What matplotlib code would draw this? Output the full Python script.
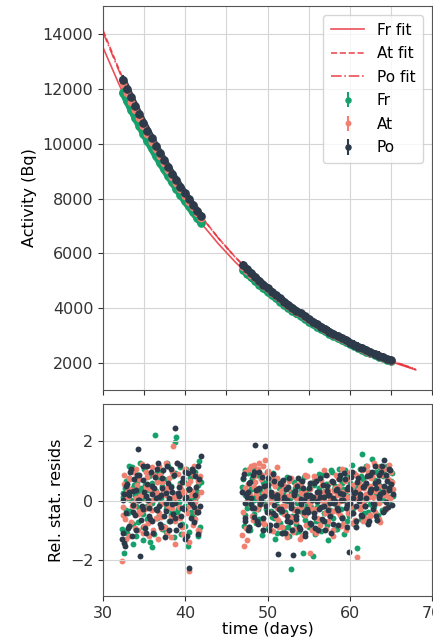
import matplotlib
matplotlib.use("Agg")
import matplotlib.pyplot as plt

# fitted decay curves (sampled every 2 days)
fit_time = [30, 32, 34, 36, 38, 40, 42, 44, 46, 48, 50, 52, 54, 56, 58, 60, 62, 64, 66, 68]
fr_fit = [13520, 12137, 10896, 9781, 8781, 7883, 7077, 6353, 5703, 5120,
          4596, 4126, 3704, 3325, 2985, 2680, 2406, 2160, 1939, 1741]
at_fit = [14150, 12680, 11363, 10182, 9124, 8176, 7327, 6566, 5884, 5273,
          4725, 4234, 3794, 3400, 3047, 2730, 2446, 2192, 1964, 1760]
po_fit = [14080, 12624, 11319, 10149, 9100, 8159, 7315, 6559, 5881, 5273,
          4728, 4239, 3801, 3408, 3056, 2740, 2457, 2203, 1975, 1771]

# measured activity (Bq); first 20 samples = first run, rest = second run
act_time = [32.4, 32.9, 33.4, 33.9, 34.4, 34.9, 35.4, 35.9, 36.4, 36.9,
            37.4, 37.9, 38.4, 38.9, 39.4, 39.9, 40.4, 40.9, 41.4, 41.9,
            47.0, 47.5, 48.0, 48.5, 49.0, 49.5, 50.0, 50.5, 51.0, 51.5,
            52.0, 52.5, 53.0, 53.5, 54.0, 54.5, 55.0, 55.5, 56.0, 56.5,
            57.0, 57.5, 58.0, 58.5, 59.0, 59.5, 60.0, 60.5, 61.0, 61.5,
            62.0, 62.5, 63.0, 63.5, 64.0, 64.5, 65.0]
fr_act = [11878, 11562, 11254, 10955, 10663, 10379, 10103, 9834, 9572, 9317,
          9069, 8828, 8593, 8364, 8141, 7925, 7714, 7508, 7308, 7114,
          5403, 5259, 5119, 4983, 4850, 4721, 4595, 4473, 4354, 4238,
          4125, 4015, 3908, 3804, 3703, 3604, 3508, 3415, 3324, 3236,
          3150, 3066, 2984, 2905, 2828, 2753, 2680, 2609, 2540, 2472,
          2406, 2342, 2280, 2219, 2160, 2103, 2047]
at_act = [12194, 11867, 11549, 11239, 10938, 10644, 10359, 10081, 9811, 9548,
          9292, 9043, 8800, 8564, 8334, 8111, 7893, 7681, 7475, 7275,
          5513, 5365, 5221, 5081, 4945, 4812, 4683, 4558, 4435, 4317,
          4201, 4088, 3979, 3872, 3768, 3667, 3569, 3473, 3380, 3289,
          3201, 3115, 3031, 2950, 2871, 2794, 2719, 2646, 2575, 2506,
          2439, 2373, 2310, 2248, 2187, 2129, 2072]
po_act = [12352, 12020, 11696, 11381, 11075, 10777, 10487, 10205, 9930, 9663,
          9403, 9150, 8904, 8664, 8431, 8204, 7983, 7768, 7559, 7356,
          5568, 5418, 5272, 5130, 4992, 4858, 4727, 4600, 4476, 4356,
          4239, 4125, 4014, 3906, 3801, 3699, 3599, 3502, 3408, 3316,
          3227, 3140, 3055, 2973, 2893, 2815, 2739, 2665, 2593, 2523,
          2455, 2389, 2325, 2262, 2201, 2142, 2084]
act_err = 150
n_run1 = 20

# relative statistical residuals, first set of samples
res_time = [32.3, 32.5, 32.7, 32.9, 33.1, 33.3, 33.5, 33.7, 33.9, 34.1,
            34.3, 34.5, 34.7, 34.9, 35.1, 35.3, 35.5, 35.7, 35.9, 36.1,
            36.3, 36.5, 36.7, 36.9, 37.1, 37.3, 37.5, 37.7, 37.9, 38.1,
            38.3, 38.5, 38.7, 38.9, 39.1, 39.3, 39.5, 39.7, 39.9, 40.1,
            40.3, 40.5, 40.7, 40.9, 41.1, 41.3, 41.5, 41.7, 41.9,
            46.9, 47.1, 47.3, 47.5, 47.7, 47.9, 48.1, 48.3, 48.5, 48.7,
            48.9, 49.1, 49.3, 49.5, 49.7, 49.9, 50.1, 50.3, 50.5, 50.7,
            50.9, 51.1, 51.3, 51.5, 51.7, 51.9, 52.1, 52.3, 52.5, 52.7,
            52.9, 53.1, 53.3, 53.5, 53.7, 53.9, 54.1, 54.3, 54.5, 54.7,
            54.9, 55.1, 55.3, 55.5, 55.7, 55.9, 56.1, 56.3, 56.5, 56.7,
            56.9, 57.1, 57.3, 57.5, 57.7, 57.9, 58.1, 58.3, 58.5, 58.7,
            58.9, 59.1, 59.3, 59.5, 59.7, 59.9, 60.1, 60.3, 60.5, 60.7,
            60.9, 61.1, 61.3, 61.5, 61.7, 61.9, 62.1, 62.3, 62.5, 62.7,
            62.9, 63.1, 63.3, 63.5, 63.7, 63.9, 64.1, 64.3, 64.5, 64.7,
            64.9, 65.1]
fr_res = [-0.93, -1.75, 0.42, -1.07, 0.76, -0.34, 1.12, -1.45, 0.18, 0.63,
          -0.71, 1.27, 0.08, -1.32, 0.54, -0.16, 0.87, -1.38, -1.55, 0.29,
          2.21, -0.57, 0.73, -0.12, 0.96, -0.84, 0.37, -1.03, 1.18, 0.04,
          -0.48, 0.82, 1.98, 2.15, -0.27, 0.58, -1.13, 0.23, -0.86, 1.06,
          -1.52, 0.41, -0.39, 0.93, -0.66, 0.32, -1.17, 1.35, 0.62,
          0.47, -0.83, 1.02, -0.24, 0.31, -0.97, 0.78, -0.43, 0.13, 0.88,
          -0.62, 0.36, -1.16, 0.64, -0.07, 0.98, -0.92, 0.17, -0.53, 0.69,
          -1.28, 0.02, 0.49, -0.74, -1.09, 0.27, -0.36, 0.81, -0.88, 0.11,
          -2.29, -0.63, 0.44, -1.04, 0.16, -0.33, 0.68, -1.76, -0.46, 0.34,
          -0.79, 1.38, -0.21, -1.84, 0.52, -0.68, 0.07, 0.91, -1.01, 0.28,
          -0.42, 0.57, -1.31, -0.03, 1.03, -0.59, 0.38, -0.94, 0.22, 1.08,
          -0.28, 0.61, -1.12, 0.33, 0.86, -0.51, 0.14, 1.21, -0.77, 0.48,
          -1.57, 0.19, 0.83, 1.58, -0.41, 0.56, -0.72, 0.97, 0.26, 1.41,
          -0.18, 0.71, -0.64, 1.13, 0.39, -0.32, 0.89, 0.24, 1.16, -0.09,
          0.63, 0.92]
at_res = [-2.03, 0.87, -0.62, 0.28, -1.19, 0.73, -0.18, 0.97, -0.91, 0.52,
          -0.43, 0.17, 1.22, -1.08, -0.27, 0.79, -0.74, 0.41, 1.13, -0.98,
          0.06, 0.62, -1.27, 0.88, -0.53, 0.34, -0.87, 1.28, -0.23, 0.47,
          -1.21, 1.85, -1.45, 0.22, 0.91, -0.58, 0.38, -1.12, 1.04, -0.32,
          0.57, -2.35, 0.19, -0.82, 1.17, -0.37, 0.68, -1.02, 0.31,
          -1.15, -1.50, 0.43, -1.30, 1.08, 0.18, -0.52, 1.19, 0.63, -0.28,
          1.26, 0.03, 0.86, -0.72, 1.37, 0.27, 0.99, -0.41, 0.72, -1.01,
          0.48, 1.12, -0.63, 0.23, -0.88, 0.57, -0.19, -1.22, 0.38, -0.54,
          0.77, -1.03, 0.12, -0.68, 0.53, -1.28, 0.26, -0.42, 0.87, -0.81,
          -0.02, -1.75, 0.61, -0.29, 0.83, -1.07, 0.21, -0.62, 0.69, -0.17,
          1.02, -0.93, 0.37, -0.48, 0.63, -1.18, 0.32, 0.88, -0.39, 0.51,
          -0.83, 1.07, 0.04, -0.97, 0.72, -0.27, 0.46, -0.73, 0.92, 0.18,
          -1.87, 0.58, -0.22, 1.03, 0.42, -0.57, 1.18, 0.13, -0.47, 0.82,
          1.27, -0.38, 0.53, 0.87, -0.71, 1.09, 0.28, -0.23, 0.78, 1.21,
          0.08, 0.62]
po_res = [-1.28, 0.23, -1.52, 0.57, -0.83, 0.98, -1.17, 0.32, -0.47, 0.88,
          1.72, -1.85, -0.18, 0.69, -0.92, 1.17, 0.03, -0.61, 0.48, -1.09,
          0.81, -0.32, 1.26, -0.77, 0.19, 1.02, -1.23, -0.07, 0.61, -0.68,
          1.08, -0.43, 2.45, -0.97, 0.27, 1.21, -0.52, 0.77, -1.27, 0.13,
          0.92, -2.25, -0.57, 0.99, -0.22, 0.47, -1.12, 0.72, 1.50,
          0.28, 0.91, -0.58, 0.12, -0.87, 0.62, -0.23, 0.98, 1.88, -0.69,
          0.42, -0.12, 0.79, -0.98, 1.85, -0.37, 0.53, -0.82, 0.17, 0.89,
          -0.48, 0.08, -1.80, 0.58, -0.33, 0.71, -1.08, 0.02, 0.47, -0.72,
          -0.17, -1.83, 0.32, -0.62, 0.78, -0.93, -0.03, 0.43, -1.18, 0.21,
          -0.38, 0.59, -0.77, 0.12, -0.53, 0.68, -0.98, 0.28, -0.21, 0.52,
          -0.67, 0.87, -0.32, 0.18, -1.07, 0.63, -0.08, 0.37, -0.82, 0.73,
          0.01, -0.58, 0.92, -0.23, 0.41, -1.73, 0.79, -0.42, 0.27, -0.88,
          0.62, -0.02, 1.08, -0.52, 0.48, -0.17, 0.82, -0.68, 0.33, 0.97,
          -0.12, 0.58, -0.63, 0.88, 0.23, 1.17, 1.38, -0.28, 0.68, 0.42,
          1.02, -0.13]

# second set of samples (interleaved times)
res_time2 = [32.4, 32.6, 32.8, 33.0, 33.2, 33.4, 33.6, 33.8, 34.0, 34.2,
             34.4, 34.6, 34.8, 35.0, 35.2, 35.4, 35.6, 35.8, 36.0, 36.2,
             36.4, 36.6, 36.8, 37.0, 37.2, 37.4, 37.6, 37.8, 38.0, 38.2,
             38.4, 38.6, 38.8, 39.0, 39.2, 39.4, 39.6, 39.8, 40.0, 40.2,
             40.4, 40.6, 40.8, 41.0, 41.2, 41.4, 41.6, 41.8,
             47.0, 47.2, 47.4, 47.6, 47.8, 48.0, 48.2, 48.4, 48.6, 48.8,
             49.0, 49.2, 49.4, 49.6, 49.8, 50.0, 50.2, 50.4, 50.6, 50.8,
             51.0, 51.2, 51.4, 51.6, 51.8, 52.0, 52.2, 52.4, 52.6, 52.8,
             53.0, 53.2, 53.4, 53.6, 53.8, 54.0, 54.2, 54.4, 54.6, 54.8,
             55.0, 55.2, 55.4, 55.6, 55.8, 56.0, 56.2, 56.4, 56.6, 56.8,
             57.0, 57.2, 57.4, 57.6, 57.8, 58.0, 58.2, 58.4, 58.6, 58.8,
             59.0, 59.2, 59.4, 59.6, 59.8, 60.0, 60.2, 60.4, 60.6, 60.8,
             61.0, 61.2, 61.4, 61.6, 61.8, 62.0, 62.2, 62.4, 62.6, 62.8,
             63.0, 63.2, 63.4, 63.6, 63.8, 64.0, 64.2, 64.4, 64.6, 64.8,
             65.0]
fr_res2 = [0.27, -1.02, 0.68, -0.42, 1.17, 0.03, -0.78, 0.53, -1.18, 0.87,
           -0.23, 0.43, -0.88, 1.08, 0.17, -0.62, 0.82, -0.07, 0.58, -1.13,
           0.32, 0.98, -0.52, 0.08, -0.93, 0.72, -0.28, 1.27, -0.67, 0.48,
           0.02, -1.22, 0.92, -0.38, 0.23, 1.12, -0.77, 0.63, -0.17, 0.37,
           -1.03, 0.78, 0.13, -0.58, 0.97, -0.33, 0.52, -0.87,
           0.72, -0.48, 0.18, 0.92, -0.88, 0.38, -0.22, 1.07, -0.73, 0.33,
           -0.02, 0.77, -0.98, 0.52, -0.27, 0.62, -0.82, 0.08, 0.93, -0.57,
           0.23, -1.07, 0.42, -0.38, 0.67, -0.92, 0.04, 0.47, -1.17, 0.28,
           -0.52, 0.63, -0.78, 0.12, -1.02, 0.38, -0.23, 0.79, -0.63, 0.17,
           -0.88, 0.53, -0.32, 0.68, -1.12, -0.03, 0.42, -0.72, 0.87, -0.18,
           0.32, -0.82, 0.57, -0.43, 0.98, -0.08, 0.48, -0.93, 0.22, 0.77,
           -0.53, 0.37, 1.02, -0.68, 0.13, 0.58, -0.27, 0.92, -0.79, 0.52,
           0.17, 1.07, -0.62, 0.73, 0.02, 1.18, -0.38, 0.47, 0.88, -0.22,
           0.58, 0.98, -0.48, 0.28, 1.17, 0.82, -0.33, 0.43, 1.08, 0.12,
           0.68]
at_res2 = [-0.48, 0.57, -1.27, 0.13, 0.78, -0.72, 0.37, -0.17, 1.08, -0.98,
           0.72, -0.38, 0.27, -0.83, 0.98, 0.04, -1.18, 0.47, -0.32, 0.88,
           -0.57, 0.18, 1.17, -0.92, 0.63, -0.08, 0.42, -1.07, 0.77, -0.53,
           0.97, 0.12, -0.68, 1.27, -0.22, 0.53, -0.87, 0.28, 1.07, -0.42,
           -1.38, 0.68, -0.12, 0.87, -0.62, 0.17, -0.97, 0.82,
           -0.38, 0.98, -0.92, 0.57, 0.12, 1.17, -0.63, 0.82, 0.27, 1.08,
           -0.18, 0.72, 1.18, -0.77, 0.38, 0.92, -0.03, -0.98, 0.58, 0.22,
           -0.53, 0.77, -0.88, 0.32, -0.17, 0.48, -1.08, 0.13, 0.68, -0.62,
           0.18, -0.93, 0.52, -0.27, 0.03, 0.57, -1.17, 0.28, -0.48, 0.82,
           -0.23, 0.38, -0.97, 0.08, 0.72, -0.58, 0.27, -0.82, 0.52, -0.02,
           -0.42, 0.87, -0.67, 0.18, 0.62, -0.97, 0.43, -0.13, 0.77, -0.48,
           0.28, -0.77, 0.68, 0.12, -0.42, 0.97, -0.18, 0.52, -0.63, 0.88,
           0.37, -0.28, 1.08, -0.68, 0.58, 0.17, 0.98, -0.52, 0.78, 0.32,
           -0.08, 1.17, 0.48, -0.62, 0.88, 0.18, 1.07, -0.27, 0.72, 0.38,
           0.98]
po_res2 = [-1.08, -1.42, 0.48, -0.92, 0.18, 1.07, -0.38, 0.72, -0.98, 0.02,
           0.88, -0.63, 1.17, 0.28, -1.07, 0.57, -0.23, 0.97, -0.68, 0.42,
           -0.28, 1.08, 0.12, -0.87, 0.78, -0.52, 0.27, 1.18, -0.98, 0.47,
           -0.12, 0.87, -0.58, 1.28, 0.17, -0.82, 0.62, -0.28, 0.98, -1.17,
           0.38, -0.03, 1.07, -0.72, 0.82, -0.37, 1.17, -0.18,
           0.77, -0.68, 0.22, -0.97, 0.58, -0.12, 0.88, -0.53, 0.37, -0.78,
           0.97, 0.08, -0.57, 0.48, -0.18, 0.78, -0.98, 0.28, -0.42, 0.67,
           -0.82, 0.18, -0.28, 0.57, -1.08, 0.03, 0.38, -0.68, 0.77, -0.23,
           -0.97, 0.27, -0.52, 0.48, -0.88, 0.07, 0.68, -0.38, -1.07, 0.17,
           0.42, -0.73, 0.02, 0.58, -0.92, 0.28, -0.27, 0.77, -0.62, 0.12,
           -0.98, 0.48, 0.18, -0.52, 0.68, -0.78, -0.02, 0.38, -0.32, 0.87,
           -0.57, 0.23, 0.72, -0.87, 0.47, -0.08, 0.98, -0.42, 0.28, -0.68,
           0.78, 0.13, -0.48, 1.07, -0.17, 0.58, -0.77, 0.88, 0.38, -0.27,
           1.18, -0.52, 0.67, 0.08, 0.97, -0.37, 0.48, 0.88, -0.22, 1.08,
           0.57]

# third set of samples, close to zero
res_time3 = [32.4, 32.8, 33.2, 33.6, 34.0, 34.4, 34.8, 35.2, 35.6, 36.0,
             36.4, 36.8, 37.2, 37.6, 38.0, 38.4, 38.8, 39.2, 39.6, 40.0,
             40.4, 40.8, 41.2, 41.6,
             47.2, 47.6, 48.0, 48.4, 48.8, 49.2, 49.6, 50.0, 50.4, 50.8,
             51.2, 51.6, 52.0, 52.4, 52.8, 53.2, 53.6, 54.0, 54.4, 54.8,
             55.2, 55.6, 56.0, 56.4, 56.8, 57.2, 57.6, 58.0, 58.4, 58.8,
             59.2, 59.6, 60.0, 60.4, 60.8, 61.2, 61.6, 62.0, 62.4, 62.8,
             63.2, 63.6, 64.0, 64.4, 64.8, 65.2]
fr_res3 = [0.12, -0.31, 0.05, 0.42, -0.18, 0.27, -0.44, 0.08, 0.35, -0.07,
           -0.26, 0.19, 0.51, -0.13, 0.02, -0.38, 0.24, -0.04, 0.33, -0.21,
           0.14, -0.49, 0.06, 0.29,
           0.21, -0.12, 0.38, 0.03, -0.27, 0.15, -0.06, 0.44, -0.33, 0.09,
           -0.18, 0.26, -0.41, -0.02, 0.17, -0.29, -0.09, 0.33, -0.47, -0.14,
           0.08, -0.36, -0.21, 0.12, -0.04, 0.28, -0.31, 0.06, -0.16, 0.22,
           0.41, -0.08, 0.17, -0.23, 0.34, 0.07, 0.48, 0.19, -0.11, 0.37,
           0.26, 0.53, 0.02, 0.31, 0.44, 0.16]
at_res3 = [-0.22, 0.17, 0.39, -0.06, 0.11, -0.34, 0.23, 0.46, -0.15, 0.04,
           0.31, -0.42, -0.09, 0.18, 0.37, -0.24, 0.07, -0.53, 0.26, 0.13,
           -0.19, 0.34, -0.03, -0.28,
           0.33, 0.07, -0.19, 0.46, 0.14, -0.08, 0.27, -0.36, 0.02, 0.19,
           -0.24, 0.09, -0.43, 0.16, -0.12, -0.31, 0.05, -0.22, 0.24, -0.38,
           -0.07, 0.13, -0.27, 0.01, 0.29, -0.16, 0.08, -0.34, 0.19, -0.02,
           0.14, 0.36, -0.21, 0.27, 0.09, 0.43, -0.04, 0.22, 0.51, 0.12,
           0.34, -0.09, 0.47, 0.21, 0.06, 0.39]
po_res3 = [0.04, -0.41, 0.28, -0.13, 0.36, 0.01, -0.27, 0.16, -0.52, 0.22,
           0.09, -0.17, 0.43, -0.34, 0.11, 0.29, -0.08, 0.47, -0.23, 0.06,
           0.38, -0.11, 0.18, -0.36,
           -0.08, 0.29, 0.11, -0.23, 0.41, -0.02, 0.17, -0.39, 0.24, -0.14,
           0.06, -0.28, 0.13, -0.51, -0.06, 0.21, -0.33, -0.11, 0.04, -0.26,
           0.18, -0.42, -0.01, 0.14, -0.19, 0.32, -0.07, 0.09, -0.24, 0.27,
           0.03, -0.13, 0.38, 0.11, -0.17, 0.24, 0.46, 0.08, 0.31, -0.06,
           0.42, 0.17, 0.28, -0.03, 0.36, 0.23]

fit_color = "#e8323c"
colors = {"Fr": "#15a06c", "At": "#f08070", "Po": "#2c3a4a"}
fs = 11.5

plt.rcParams["font.size"] = fs
fig = plt.figure(figsize=(4.33, 6.37), dpi=100)
ax1 = fig.add_axes([0.238, 0.388, 0.760, 0.603])
ax2 = fig.add_axes([0.238, 0.064, 0.760, 0.302])

# top panel: fits + data
ax1.plot(fit_time, fr_fit, color=fit_color, lw=1.2, alpha=0.85, label="Fr fit")
ax1.plot(fit_time, at_fit, color=fit_color, lw=1.2, ls="--", alpha=0.85, label="At fit")
ax1.plot(fit_time, po_fit, color=fit_color, lw=1.2, ls="-.", alpha=0.85, label="Po fit")
for name, act in [("Fr", fr_act), ("At", at_act), ("Po", po_act)]:
    c = colors[name]
    is_at = name == "At"
    lw_band = 3.0 if is_at else 5.2
    # dense samples overlap into a solid band
    ax1.plot(act_time[:n_run1], act[:n_run1], color=c, lw=lw_band, solid_capstyle="round")
    ax1.plot(act_time[n_run1:], act[n_run1:], color=c, lw=lw_band, solid_capstyle="round")
    ax1.errorbar(act_time, act, yerr=100 if is_at else act_err, fmt="o",
                 ms=4.6 if is_at else 5.2, elinewidth=1.5, color=c, label=name)
ax1.set_xlim(30, 70)
ax1.set_ylim(1010, 15050)
ax1.set_xticks([30, 35, 40, 45, 50, 55, 60, 65, 70])
ax1.set_xticklabels([])
ax1.set_yticks([2000, 4000, 6000, 8000, 10000, 12000, 14000])
ax1.set_ylabel("Activity (Bq)")
ax1.grid(True, color="#d5d5d5", lw=0.8)
ax1.legend(loc="upper right", fontsize=11, handlelength=2.2, borderpad=0.5,
           labelspacing=0.56, framealpha=0.8, borderaxespad=0.6, markerscale=0.7)

# bottom panel: residuals
for name, r1, r2, r3 in [("Fr", fr_res, fr_res2, fr_res3),
                         ("At", at_res, at_res2, at_res3),
                         ("Po", po_res, po_res2, po_res3)]:
    ax2.scatter(res_time + res_time2 + res_time3, r1 + r2 + r3, s=18,
                color=colors[name], lw=0)
ax2.set_xlim(30, 70)
ax2.set_ylim(-3.2, 3.25)
ax2.set_xticks([30, 40, 50, 60, 70])
ax2.set_yticks([-2, 0, 2])
ax2.set_xlabel("time (days)", labelpad=1)
ax2.set_ylabel("Rel. stat. resids")
ax2.grid(True, color="#d5d5d5", lw=0.8)

for ax in (ax1, ax2):
    for sp in ax.spines.values():
        sp.set_color("#555555")
    ax.tick_params(colors="#333333", labelcolor="#333333")

fig.savefig("out.png", dpi=100)
